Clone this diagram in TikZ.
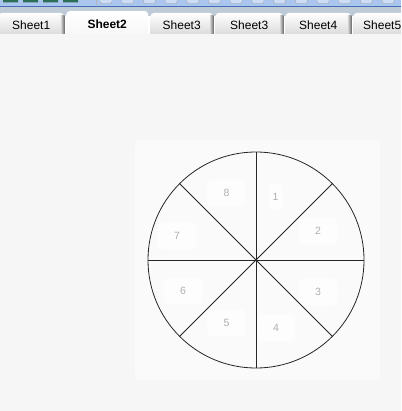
\documentclass[tikz,border=0pt]{standalone}
\usepackage{fontspec}
\setmainfont{Liberation Sans}
\usetikzlibrary{positioning}

\begin{document}
\begin{tikzpicture}[x=1pt,y=-1pt,
	tab/.style={anchor=south west,minimum height=25pt,inner sep=0pt,
		rounded corners=4pt,top color=white,bottom color=tabgray,
		font=\fontsize{12}{14}\selectfont},
	active tab/.style={anchor=south west,minimum height=27pt,inner sep=0pt,
		rounded corners=4pt,top color=white,bottom color=bg,
		font=\bfseries\fontsize{12}{14}\selectfont},
	tab shadow/.style={left color=tabgray,right color=tabshadow},
	num box/.style={fill=numbg,rounded corners=5pt,minimum width=39pt,
		minimum height=27pt,inner sep=0pt,text=numgray,
		font=\fontsize{10.5}{13}\selectfont},
	spoke/.style={draw=black!85,line width=0.8pt}]

	\definecolor{bg}{RGB}{246,246,246}
	\definecolor{panel}{RGB}{250,250,250}
	\definecolor{numbg}{RGB}{253,253,253}
	\definecolor{tabgray}{RGB}{214,214,214}
	\definecolor{tabshadow}{RGB}{110,110,110}
	\definecolor{numgray}{RGB}{176,176,176}
	\definecolor{barblue}{RGB}{170,198,238}
	\definecolor{barline}{RGB}{70,110,180}
	\definecolor{bargray}{RGB}{190,202,214}
	\definecolor{iconbox}{RGB}{46,110,88}

	\useasboundingbox (0,0) rectangle (401,411);
	\clip (0,0) rectangle (401,411);

	% toolbar strip
	\fill[bargray] (0,0) rectangle (401,16);
	\fill[barblue] (0,0) rectangle (401,6);
	\fill[barline] (0,6) rectangle (401,7.5);
	\fill[iconbox] (3,0) rectangle (18,2.5) (23,0) rectangle (38,2.5)
		(43,0) rectangle (58,2.5) (63,0) rectangle (78,2.5);
	\draw[gray!60] (96.5,0) -- (96.5,5);
	\foreach \i in {0,...,13}
		\draw[gray!70,fill=barblue!60,rounded corners=1.5pt]
			(100+21.7*\i,-4) rectangle (112+21.7*\i,3.5);

	% sheet tabs
	\node[tab,minimum width=66pt] (s1) at (-2,38) {Sheet1};
	\node[tab,minimum width=63pt] (s3) at (150,38) {Sheet3};
	\node[tab,minimum width=68pt] (s3b) at (215,38) {Sheet3};
	\node[tab,minimum width=66pt] (s4) at (285,38) {Sheet4};
	\node[tab,minimum width=58pt] (s5) at (353,38) {Sheet5};
	\shade[tab shadow] ([xshift=-3.5pt,yshift=-3pt]s1.north east) rectangle (s1.south east);
	\shade[tab shadow] ([xshift=-3.5pt,yshift=-3pt]s3.north east) rectangle (s3.south east);
	\shade[tab shadow] ([xshift=-3.5pt,yshift=-3pt]s3b.north east) rectangle (s3b.south east);
	\shade[tab shadow] ([xshift=-3.5pt,yshift=-3pt]s4.north east) rectangle (s4.south east);
	\node[active tab,minimum width=82pt] (s2) at (66,38) {Sheet2};

	% sheet area
	\fill[bg] (0,34) rectangle (401,411);
	\fill[panel,rounded corners=5pt] (135,140) rectangle (380,380);

	% wheel
	\coordinate (o) at (256,260);
	\coordinate (n) at (256,152);
	\coordinate (ne) at (332.4,183.6);
	\coordinate (e) at (364,260);
	\coordinate (se) at (332.4,336.4);
	\coordinate (s) at (256,368);
	\coordinate (sw) at (179.6,336.4);
	\coordinate (w) at (148,260);
	\coordinate (nw) at (179.6,183.6);

	\node[num box,minimum width=14pt] (l1) at (275.5,197) {1};
	\node[num box] (l2) at (318,231) {2};
	\node[num box] (l3) at (318,292) {3};
	\node[num box] (l4) at (276,328) {4};
	\node[num box] (l5) at (226.5,323) {5};
	\node[num box] (l6) at (183,291) {6};
	\node[num box] (l7) at (177,236) {7};
	\node[num box] (l8) at (226.5,193) {8};

	\draw[spoke] (o) circle (108);
	\path[spoke]
	(o) edge (n)
	(o) edge (ne)
	(o) edge (e)
	(o) edge (se)
	(o) edge (s)
	(o) edge (sw)
	(o) edge (w)
	(o) edge (nw);
\end{tikzpicture}
\end{document}
